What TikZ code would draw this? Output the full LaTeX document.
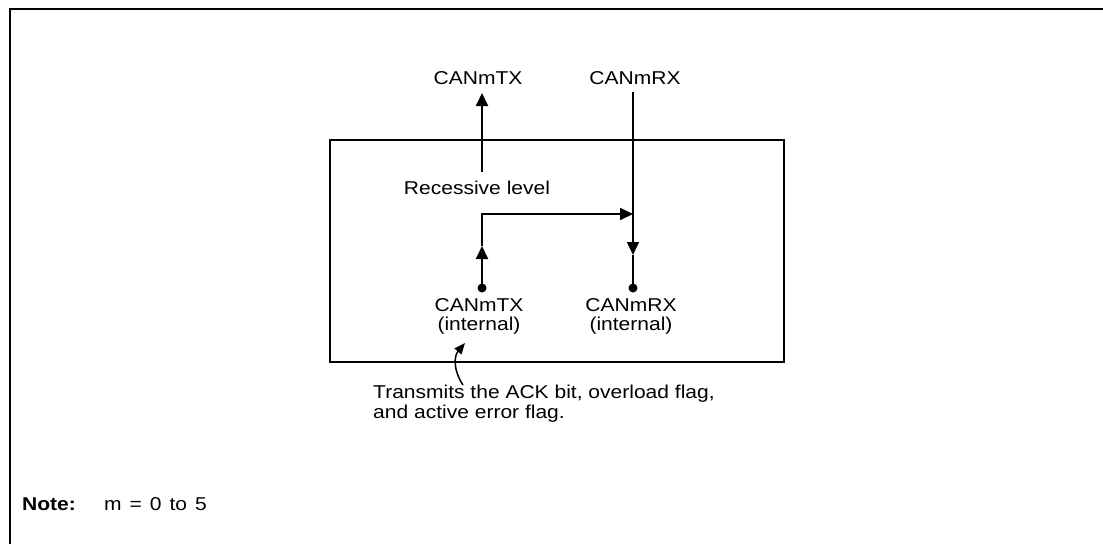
\documentclass[tikz,border=0pt]{standalone}
\usepackage{fontspec}
\setmainfont{Liberation Sans}[FakeStretch=1.13]
\usepackage{tikz}
\usetikzlibrary{arrows.meta,positioning,calc}

\begin{document}
\begin{tikzpicture}[x=1pt,y=-1pt,
  lbl/.style={font=\fontsize{18.6}{19.5}\selectfont,inner sep=0pt,align=center},
  wire/.style={line width=1.9pt},
  tip/.style={-{Triangle[length=13pt,width=12pt]}},
  pin/.style={circle,fill,inner sep=0pt,minimum size=9pt}]
  \useasboundingbox (0,0) rectangle (1103,544);
  % frame
  \draw[line width=2.4pt] (10,544) -- (10,9) -- (1103,9);
  % controller block
  \draw[line width=1.6pt] (330,140) rectangle (784,362);
  % external pins
  \node[lbl] (txpin) at (478,78) {CANmTX};
  \node[lbl] (rxpin) at (635,78) {CANmRX};
  \coordinate (txtop) at (482,93);
  \coordinate (rxtop) at (633,92);
  % inside the block
  \node[lbl] (rec) at (477,188) {Recessive level};
  \coordinate (txlow) at (482,172);
  \coordinate (bend) at (482,214);
  \coordinate (join) at (633,214);
  \coordinate (txmid) at (482,246);
  \coordinate (rxmid) at (633,255);
  \node[pin] (txd) at (482,288) {};
  \node[pin] (rxd) at (633,288) {};
  \node[lbl,anchor=north] (txint) at (479,298) {CANmTX\\(internal)};
  \node[lbl,anchor=north] (rxint) at (631,298) {CANmRX\\(internal)};
  % connections
  \draw[wire,tip] (txlow) -- (txtop);
  \draw[wire,tip] (txd.center) -- (txmid);
  \draw[wire,tip] (txmid) -- (bend) -- (join);
  \draw[line width=1.4pt,tip] (rxtop) -- (rxmid);
  \draw[line width=1.4pt] (rxmid) -- (rxd.center);
  % remark
  \node[lbl,anchor=north west,align=left] (ack) at (373,385)
    {Transmits the ACK bit, overload flag,\\and active error flag.};
  \coordinate (cvs) at (463,385);
  \coordinate (cve) at (465,343);
  \draw[line width=1.5pt,-{Triangle[length=11pt,width=9pt]}]
    (cvs) .. controls (453,370) and (454,356) .. (cve);
  % note
  \node[lbl,anchor=west] (note) at (22,504) {\textbf{Note:}};
  \node[lbl,anchor=west] (noteval) at (104,504) {\spaceskip=8pt m = 0 to 5};
\end{tikzpicture}
\end{document}
